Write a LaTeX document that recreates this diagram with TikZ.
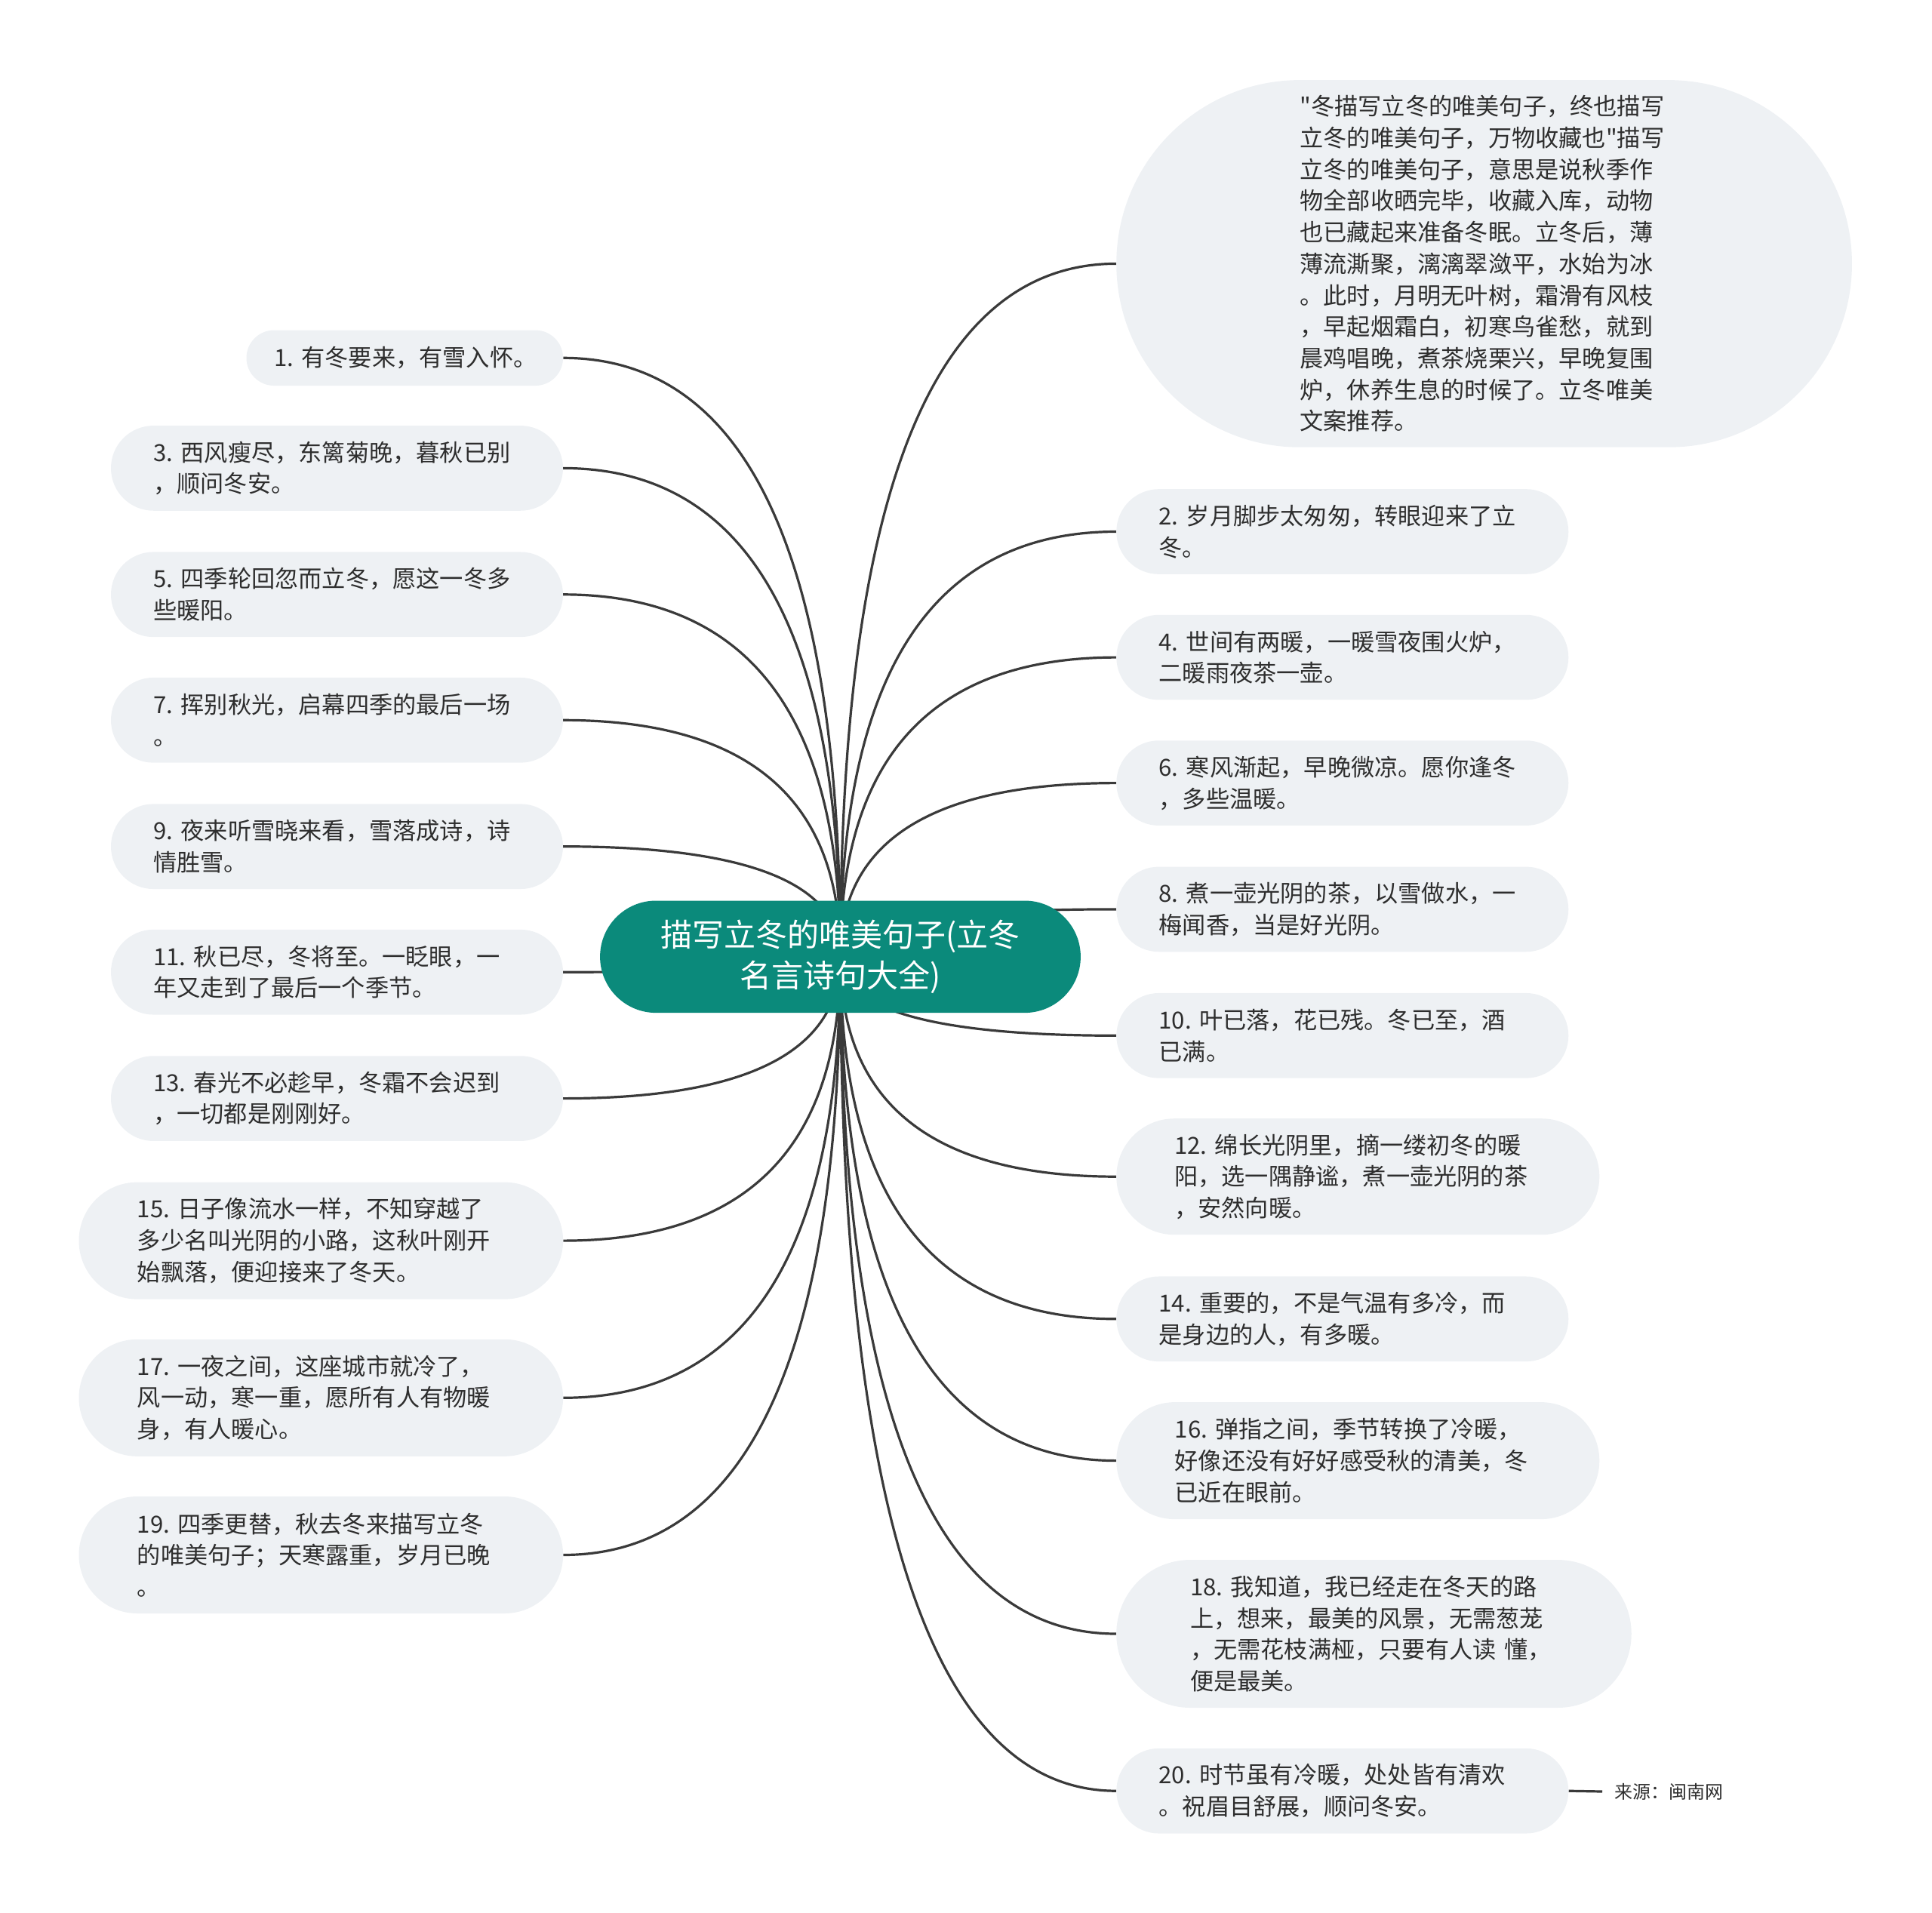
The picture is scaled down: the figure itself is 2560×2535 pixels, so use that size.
\documentclass[tikz,border=0pt]{standalone}
\usepackage{fontspec}
\newfontfamily\cjkf{Noto Sans CJK SC}
\usetikzlibrary{calc}
\definecolor{pillfill}{HTML}{EEF1F4}
\definecolor{rootfill}{HTML}{0B8A7B}
\definecolor{txt}{HTML}{2E2E2E}
\definecolor{linec}{HTML}{3A3A3A}
\pgfdeclarelayer{bg}
\pgfsetlayers{bg,main}
\tikzset{
  pill/.style={rectangle, fill=pillfill, text=txt, align=left, inner ysep=0pt,
    font=\cjkf\fontsize{31.2}{41.7}\selectfont},
  sz/.style n args={3}{text width=#1pt-2*#3pt, inner xsep=#3pt, minimum height=#2pt, rounded corners=#3pt},
  rootnode/.style={rectangle, fill=rootfill, text=white, align=center, inner sep=0pt,
    font=\cjkf\fontsize{42}{54}\selectfont},
  rsz/.style n args={3}{minimum width=#1pt, minimum height=#2pt, rounded corners=#3pt},
  conn/.style={draw=linec, line width=3.2pt},
  srcnode/.style={text=txt, anchor=west, inner xsep=16pt, inner ysep=0pt,
    font=\cjkf\fontsize{24}{28}\selectfont},
}
\newcommand\mmconn[1]{%
  \path (root.center |- #1) coordinate (q);
  \draw[conn] (root.center) .. controls ($(root.center)!0.667!(q)$) and ($(#1)!0.667!(q)$) .. (#1);}
\begin{document}
\begin{tikzpicture}[x=1pt,y=-1pt]
\useasboundingbox (0,0) rectangle (2560,2535);
% root
\node[rootnode, rsz={636.8}{148.6}{74.2}] (root) at (1113.5,1267.8) {描写立冬的唯美句子(立冬\\名言诗句大全)};
% left
\node[pill, sz={419.6}{73.5}{36.7}] (n1) at (536.3,474.3) {1.~有冬要来，有雪入怀。};
\node[pill, sz={599}{112.7}{56.3}] (n3) at (446.5,620.4) {3.~西风瘦尽，东篱菊晚，暮秋已别\\，顺问冬安。};
\node[pill, sz={599}{112.7}{56.3}] (n5) at (446.5,787.8) {5.~四季轮回忽而立冬，愿这一冬多\\些暖阳。};
\node[pill, sz={599}{112.7}{56.3}] (n7) at (446.5,954.3) {7.~挥别秋光，启幕四季的最后一场\\。};
\node[pill, sz={599}{112.7}{56.3}] (n9) at (446.5,1121.7) {9.~夜来听雪晓来看，雪落成诗，诗\\情胜雪。};
\node[pill, sz={599}{112.7}{56.3}] (n11) at (446.5,1288.2) {11.~秋已尽，冬将至。一眨眼，一\\年又走到了最后一个季节。};
\node[pill, sz={599}{112.7}{56.3}] (n13) at (446.5,1455.6) {13.~春光不必趁早，冬霜不会迟到\\，一切都是刚刚好。};
\node[pill, sz={641.6}{155}{77.4}] (n15) at (425.3,1644.1) {15.~日子像流水一样，不知穿越了\\多少名叫光阴的小路，这秋叶刚开\\始飘落，便迎接来了冬天。};
\node[pill, sz={641.6}{155}{77.4}] (n17) at (425.3,1852.3) {17.~一夜之间，这座城市就冷了，\\风一动，寒一重，愿所有人有物暖\\身，有人暖心。};
\node[pill, sz={641.6}{155}{77.4}] (n19) at (425.3,2060.5) {19.~四季更替，秋去冬来描写立冬\\的唯美句子；天寒露重，岁月已晚\\。};
% right
\node[pill, sz={974.7}{486.6}{243.2}] (nt) at (1966.6,349.4) {"冬描写立冬的唯美句子，终也描写\\立冬的唯美句子，万物收藏也"描写\\立冬的唯美句子，意思是说秋季作\\物全部收晒完毕，收藏入库，动物\\也已藏起来准备冬眠。立冬后，薄\\薄流澌聚，漓漓翠潋平，水始为冰\\。此时，月明无叶树，霜滑有风枝\\，早起烟霜白，初寒鸟雀愁，就到\\晨鸡唱晚，煮茶烧栗兴，早晚复围\\炉，休养生息的时候了。立冬唯美\\文案推荐。};
\node[pill, sz={599}{112.7}{56.3}] (n2) at (1778.8,704.5) {2.~岁月脚步太匆匆，转眼迎来了立\\冬。};
\node[pill, sz={599}{112.7}{56.3}] (n4) at (1778.8,871.1) {4.~世间有两暖，一暖雪夜围火炉，\\二暖雨夜茶一壶。};
\node[pill, sz={599}{112.7}{56.3}] (n6) at (1778.8,1037.6) {6.~寒风渐起，早晚微凉。愿你逢冬\\，多些温暖。};
\node[pill, sz={599}{112.7}{56.3}] (n8) at (1778.8,1204.9) {8.~煮一壶光阴的茶，以雪做水，一\\梅闻香，当是好光阴。};
\node[pill, sz={599}{112.7}{56.3}] (n10) at (1778.8,1372.3) {10.~叶已落，花已残。冬已至，酒\\已满。};
\node[pill, sz={640}{154}{76.9}] (n12) at (1799.3,1559.2) {12.~绵长光阴里，摘一缕初冬的暖\\阳，选一隅静谧，煮一壶光阴的茶\\，安然向暖。};
\node[pill, sz={599}{112.7}{56.3}] (n14) at (1778.8,1747.8) {14.~重要的，不是气温有多冷，而\\是身边的人，有多暖。};
\node[pill, sz={640}{155}{77.4}] (n16) at (1799.3,1935.6) {16.~弹指之间，季节转换了冷暖，\\好像还没有好好感受秋的清美，冬\\已近在眼前。};
\node[pill, sz={682.5}{196}{97.9}] (n18) at (1820.5,2165) {18.~我知道，我已经走在冬天的路\\上，想来，最美的风景，无需葱茏\\，无需花枝满桠，只要有人读~懂，\\便是最美。};
\node[pill, sz={599}{112.7}{56.3}] (n20) at (1778.8,2373.2) {20.~时节虽有冷暖，处处皆有清欢\\。祝眉目舒展，顺问冬安。};
\node[srcnode] (src) at (2123,2374) {来源：闽南网};
\begin{pgfonlayer}{bg}
\foreach \n in {n1,n3,n5,n7,n9,n11,n13,n15,n17,n19}{\mmconn{\n.east}}
\foreach \n in {nt,n2,n4,n6,n8,n10,n12,n14,n16,n18,n20}{\mmconn{\n.west}}
\draw[conn] (n20.east) -- (src.west);
\end{pgfonlayer}
\end{tikzpicture}
\end{document}
